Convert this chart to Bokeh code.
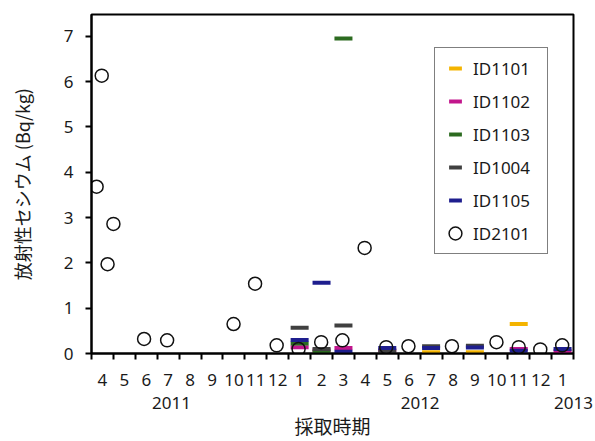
import calendar
from bokeh.plotting import figure
from bokeh.models import FixedTicker, LinearAxis, Legend, LegendItem, Range1d, ColumnDataSource
from bokeh.embed import file_html
from bokeh.resources import INLINE

# ---------------- data ----------------
MONTH_LABELS = ["4", "5", "6", "7", "8", "9", "10", "11", "12",
                "1", "2", "3", "4", "5", "6", "7", "8", "9", "10", "11", "12", "1"]
YEAR_LABELS = ["2011", "2012", "2013"]
START_YEAR, START_MONTH = 2011, 4

SERIES_NAMES = ["ID1101", "ID1102", "ID1103", "ID1004", "ID1105"]

id1101_months = ["2012-07", "2012-09", "2012-11"]
id1101_values = [0.03, 0.03, 0.65]

id1102_months = ["2012-01", "2012-02", "2012-03", "2012-05", "2012-11", "2013-01"]
id1102_values = [0.14, 0.07, 0.12, 0.07, 0.10, 0.05]

id1103_months = ["2012-01", "2012-02", "2012-03"]
id1103_values = [0.22, 0.04, 6.95]

id1004_months = ["2012-01", "2012-02", "2012-03", "2012-05", "2012-07", "2012-09"]
id1004_values = [0.57, 0.10, 0.62, 0.05, 0.16, 0.17]

id1105_months = ["2012-01", "2012-02", "2012-03", "2012-05", "2012-07", "2012-09", "2012-11", "2013-01"]
id1105_values = [0.30, 1.56, 0.04, 0.12, 0.12, 0.13, 0.06, 0.10]

id2101_dates = ["2011-04-08", "2011-04-15", "2011-04-23", "2011-05-01", "2011-06-13",
                "2011-07-15", "2011-10-16", "2011-11-15", "2011-12-15", "2012-01-15",
                "2012-02-15", "2012-03-15", "2012-04-15", "2012-05-15", "2012-06-15",
                "2012-08-15", "2012-10-16", "2012-11-16", "2012-12-16", "2013-01-16"]
id2101_values = [3.68, 6.13, 1.97, 2.86, 0.32, 0.29, 0.65, 1.54, 0.18, 0.10,
                 0.25, 0.29, 2.33, 0.14, 0.16, 0.16, 0.25, 0.14, 0.09, 0.18]

# ---------------- styling ----------------
COLORS = ["#F4B400", "#C2168C", "#2C6B20", "#404040", "#1E1E8E"]
YEAR_TICK_POS = [3.65, 15.0, 22.0]
NUM_FONT = "Noto Sans"
JP_FONT = "Noto Sans CJK JP"
TXT = "#1a1a1a"


def month_index(y, m):
    return (y - START_YEAR) * 12 + (m - START_MONTH)


def month_center(ym):
    y, m = map(int, ym.split("-"))
    return month_index(y, m) + 0.5


def date_pos(d):
    y, m, day = map(int, d.split("-"))
    return month_index(y, m) + (day - 1) / calendar.monthrange(y, m)[1]


n_months = len(MONTH_LABELS)

p = figure(width=595, height=441, output_backend="svg", toolbar_location=None,
           x_range=Range1d(0, n_months), y_range=Range1d(0, 7.48),
           min_border_left=91, min_border_top=14, min_border_right=22, min_border_bottom=5)
p.xgrid.visible = False
p.ygrid.visible = False
p.outline_line_color = "black"
p.outline_line_width = 2
p.background_fill_color = "white"
p.border_fill_color = "white"

# x axis: month labels centred, ticks at boundaries (minor ticks)
xa = p.xaxis[0]
xa.ticker = FixedTicker(ticks=[i + 0.5 for i in range(n_months)],
                        minor_ticks=list(range(n_months + 1)))
xa.major_label_overrides = {i + 0.5: lab for i, lab in enumerate(MONTH_LABELS)}
xa.major_tick_out = 0
xa.major_tick_in = 0
xa.minor_tick_out = 6
xa.minor_tick_in = 0
xa.minor_tick_line_color = "black"
xa.minor_tick_line_width = 2
xa.axis_line_color = "black"
xa.axis_line_width = 2
xa.major_label_standoff = 14
xa.major_label_text_font = NUM_FONT
xa.major_label_text_font_size = "17px"
xa.major_label_text_color = TXT

# year axis
ya2 = LinearAxis(ticker=FixedTicker(ticks=YEAR_TICK_POS, minor_ticks=[]))
ya2.major_label_overrides = {pos: lab for pos, lab in zip(YEAR_TICK_POS, YEAR_LABELS)}
ya2.axis_line_color = None
ya2.major_tick_line_color = None
ya2.minor_tick_line_color = None
ya2.major_tick_out = 0
ya2.major_tick_in = 0
ya2.major_label_standoff = 8
ya2.major_label_text_font = NUM_FONT
ya2.major_label_text_font_size = "17px"
ya2.major_label_text_color = TXT
ya2.axis_label = "採取時期"
ya2.axis_label_standoff = 0
ya2.axis_label_text_font = JP_FONT
ya2.axis_label_text_font_size = "19px"
ya2.axis_label_text_font_style = "normal"
ya2.axis_label_text_color = TXT
p.add_layout(ya2, "below")

# y axis
yax = p.yaxis[0]
yax.ticker = FixedTicker(ticks=list(range(8)), minor_ticks=[])
yax.major_tick_out = 6
yax.major_tick_in = 0
yax.major_tick_line_color = "black"
yax.major_tick_line_width = 2
yax.axis_line_color = "black"
yax.axis_line_width = 2
yax.major_label_standoff = 12
yax.major_label_text_font = NUM_FONT
yax.major_label_text_font_size = "17px"
yax.major_label_text_color = TXT
yax.axis_label = "放射性セシウム (Bq/kg)"
yax.axis_label_standoff = 26
yax.axis_label_text_font = JP_FONT
yax.axis_label_text_font_size = "18px"
yax.axis_label_text_font_style = "normal"
yax.axis_label_text_color = TXT

series = [(id1101_months, id1101_values), (id1102_months, id1102_values),
          (id1103_months, id1103_values), (id1004_months, id1004_values),
          (id1105_months, id1105_values)]

items = []
for name, color, (months, vals) in zip(SERIES_NAMES, COLORS, series):
    src = ColumnDataSource(dict(x=[month_center(m) for m in months], y=vals))
    r = p.scatter("x", "y", source=src, marker="dash", size=18,
                  line_color=color, line_width=4)
    items.append(LegendItem(label=name, renderers=[r]))

src2 = ColumnDataSource(dict(x=[date_pos(d) for d in id2101_dates], y=id2101_values))
rc = p.scatter("x", "y", source=src2, marker="circle", size=13,
               line_color="#111111", line_width=1.5, fill_color=None)
items.append(LegendItem(label="ID2101", renderers=[rc]))

legend = Legend(items=items, location=(343, 99))
legend.glyph_width = 32
legend.glyph_height = 32
legend.label_height = 32
legend.spacing = 1
legend.padding = 4
legend.margin = 0
legend.label_standoff = 2
legend.label_width = 70
legend.border_line_color = "black"
legend.border_line_width = 1.5
legend.label_text_font = NUM_FONT
legend.label_text_font_size = "17px"
legend.label_text_color = TXT
legend.background_fill_color = "white"
legend.background_fill_alpha = 1
p.add_layout(legend, "center")

open("out.html", "w").write(file_html(p, INLINE))
